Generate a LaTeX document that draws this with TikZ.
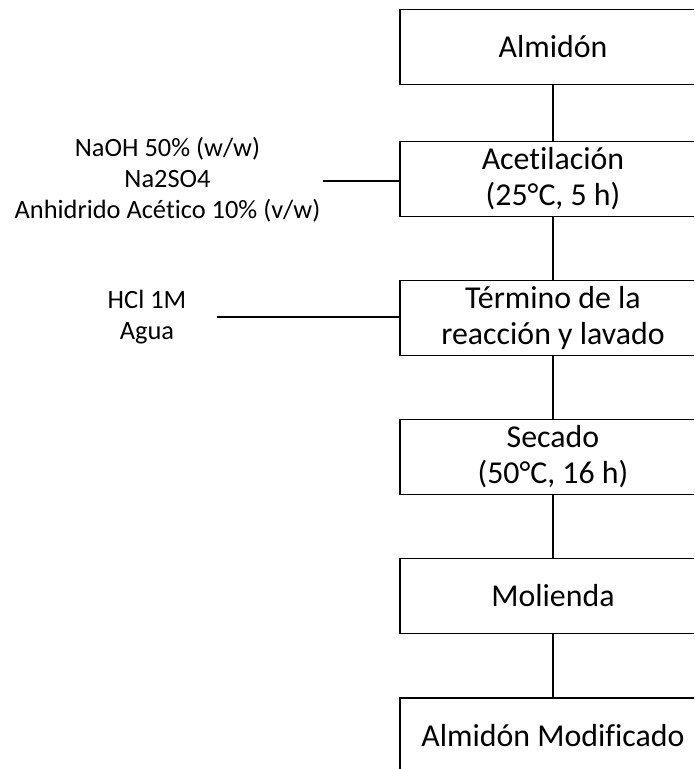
\documentclass[tikz,border=0pt]{standalone}
\usepackage{fontspec}
\setmainfont{Carlito}[Ligatures=NoCommon]
\usepackage{tikz}
\tikzstyle{process}=[rectangle,draw=black,line width=1.4pt,minimum width=229.5pt,minimum height=56.25pt,inner sep=0pt,align=center,font=\fontsize{23.9}{27}\selectfont]
\tikzstyle{reagent}=[inner sep=0pt,align=center,font=\fontsize{19.8}{23.2}\selectfont]
\tikzstyle{link}=[line width=1.4pt]

\begin{document}
\begin{tikzpicture}[x=0.75pt,y=-0.75pt]
    \clip (0,0) rectangle (694,769);

    \node (almidon) at (553, 47) [process] {Almidón};
    \node (acet) at (553, 179) [process] {Acetilación\\(25°C, 5 h)};
    \node (termino) at (553, 318) [process] {Término de la\\reacción y lavado};
    \node (secado) at (553, 457) [process] {Secado\\(50°C, 16 h)};
    \node (molienda) at (553, 596) [process] {Molienda};
    \node (modif) at (553, 735.5) [process] {Almidón Modificado};

    \node (reac1) at (167.5, 180) [reagent] {NaOH 50\% (w/w)\\Na2SO4\\Anhidrido Acético 10\% (v/w)};
    \node (reac2) at (147, 317) [reagent] {HCl 1M\\Agua};

    \coordinate (in1) at (323, 181);
    \coordinate (in2) at (217, 317);

    \draw (almidon) -- (acet) [link];
    \draw (acet) -- (termino) [link];
    \draw (termino) -- (secado) [link];
    \draw (secado) -- (molienda) [link];
    \draw (molienda) -- (modif) [link];

    \draw (in1) -- (in1 -| acet.west) [link];
    \draw (in2) -- (in2 -| termino.west) [link];
\end{tikzpicture}
\end{document}
